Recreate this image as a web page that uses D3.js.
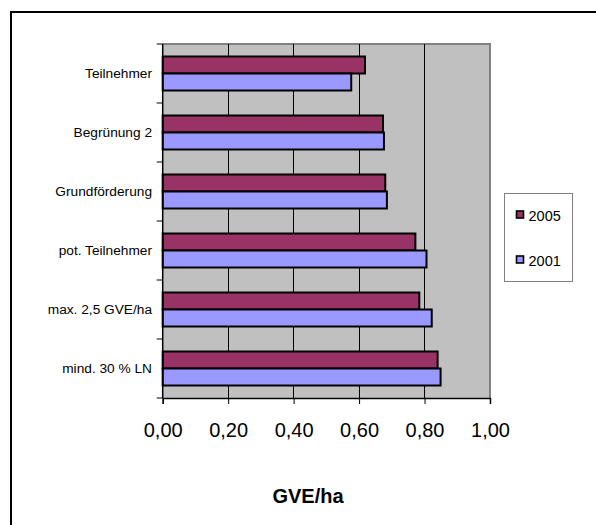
<!DOCTYPE html>
<html>
<head>
<meta charset="utf-8">
<script src="https://cdn.jsdelivr.net/npm/d3@7"></script>
<style>
  html, body { margin: 0; padding: 0; background: #fff; }
  svg, svg text { font-family: "Liberation Sans", Arimo, sans-serif; }
  svg { display: block; }
</style>
</head>
<body>
<svg id="chart" width="596" height="525"></svg>
<script>
const categories = ["Teilnehmer", "Begrünung 2", "Grundförderung", "pot. Teilnehmer", "max. 2,5 GVE/ha", "mind. 30 % LN"];
const seriesNames = ["2005", "2001"];
const values2005 = [0.618, 0.673, 0.680, 0.772, 0.784, 0.840];
const values2001 = [0.576, 0.676, 0.685, 0.806, 0.822, 0.849];
const xTicks = [0, 0.2, 0.4, 0.6, 0.8, 1.0];
const seriesColors = ["#993366", "#9999FF"];
const axisTitle = "GVE/ha";

const FONT = "'Liberation Sans', Arimo, sans-serif";
const svg = d3.select("#chart");

// outer frame (cut at right and bottom)
svg.append("path")
  .attr("d", "M11,525 L11,12 L596,12")
  .attr("fill", "none").attr("stroke", "#000").attr("stroke-width", 2);

const pLeft = 162.7, pRight = 490, pTop = 44, pBottom = 398;

const x = d3.scaleLinear().domain([0, 1]).range([pLeft, pRight]);
const y = d3.scaleBand().domain(categories).range([pTop, pBottom])
  .paddingInner(25 / 59).paddingOuter(25 / 118);
const ySub = d3.scaleBand().domain(seriesNames).range([0, y.bandwidth()]);

// plot background
svg.append("rect").attr("x", pLeft).attr("y", pTop)
  .attr("width", pRight - pLeft).attr("height", pBottom - pTop)
  .attr("fill", "#C0C0C0");

// plot border top & right
svg.append("path")
  .attr("d", `M${pLeft},${pTop} L${pRight},${pTop} L${pRight},${pBottom}`)
  .attr("fill", "none").attr("stroke", "#808080").attr("stroke-width", 2);

// gridlines
svg.append("g").selectAll("line")
  .data(xTicks.filter(t => t > 0 && t < 1))
  .join("line")
  .attr("x1", d => x(d)).attr("x2", d => x(d))
  .attr("y1", pTop).attr("y2", pBottom)
  .attr("stroke", "#000").attr("stroke-width", 1)
  .attr("shape-rendering", "crispEdges");

// bars
const data = categories.map((c, i) => ({ cat: c, vals: [
  { s: "2005", v: values2005[i], color: seriesColors[0] },
  { s: "2001", v: values2001[i], color: seriesColors[1] }
]}));

const groups = svg.append("g").selectAll("g").data(data).join("g")
  .attr("transform", d => `translate(0,${y(d.cat)})`);
groups.selectAll("rect").data(d => d.vals).join("rect")
  .attr("x", x(0))
  .attr("y", d => ySub(d.s))
  .attr("width", d => x(d.v) - x(0))
  .attr("height", ySub.bandwidth())
  .attr("fill", d => d.color)
  .attr("stroke", "#000").attr("stroke-width", 2);

// x axis
const xAxis = d3.axisBottom(x).tickValues(xTicks).tickSize(6)
  .tickFormat(d => d3.format(".2f")(d).replace(".", ","));
const gx = svg.append("g").attr("transform", `translate(0,${pBottom})`).call(xAxis)
  .attr("font-family", FONT);
gx.select(".domain").attr("stroke", "#000").attr("stroke-width", 1.5);
gx.selectAll(".tick line").attr("stroke", "#000");
gx.selectAll(".tick text").attr("font-size", 20).attr("font-family", FONT)
  .attr("fill", "#000").attr("y", 0).attr("dy", 0)
  .attr("transform", "translate(0,38.5)");

// y axis (category boundaries ticks)
svg.append("line").attr("x1", pLeft).attr("x2", pLeft).attr("y1", pTop).attr("y2", pBottom)
  .attr("stroke", "#000").attr("stroke-width", 1.5);
const boundaries = categories.map(c => y(c) - y.step() * y.paddingInner() / 2).concat([pBottom]);
svg.append("g").selectAll("line").data(boundaries).join("line")
  .attr("x1", pLeft - 6).attr("x2", pLeft)
  .attr("y1", d => d).attr("y2", d => d)
  .attr("stroke", "#000").attr("stroke-width", 1);

// category labels
svg.append("g").selectAll("text").data(categories).join("text")
  .attr("x", 152)
  .attr("y", d => y(d) + y.bandwidth() / 2 + 4.5)
  .attr("text-anchor", "end")
  .attr("font-family", FONT)
  .attr("font-size", 13.7)
  .attr("fill", "#000")
  .text(d => d);

// axis title
svg.append("text").attr("x", 308).attr("y", 503)
  .attr("text-anchor", "middle").attr("font-family", FONT)
  .attr("font-size", 20).attr("font-weight", "bold")
  .text(axisTitle);

// legend
const legend = svg.append("g");
legend.append("rect").attr("x", 504.5).attr("y", 193.5).attr("width", 68).attr("height", 88)
  .attr("fill", "#fff").attr("stroke", "#808080").attr("stroke-width", 1);
const legY = [214.5, 259.5];
seriesNames.forEach((s, i) => {
  legend.append("rect").attr("x", 516.5).attr("y", legY[i] - 3.5).attr("width", 7).attr("height", 7)
    .attr("fill", seriesColors[i]).attr("stroke", "#000").attr("stroke-width", 1.6);
  legend.append("text").attr("x", 528.5).attr("y", legY[i] + 6)
    .attr("font-family", FONT)
    .attr("font-size", 14.5).attr("fill", "#000").text(s);
});
</script>
</body>
</html>
